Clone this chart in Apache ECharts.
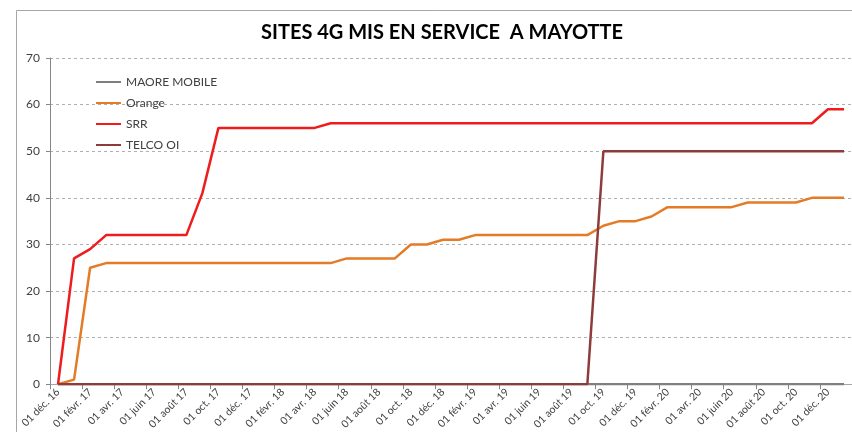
<!DOCTYPE html>
<html>
<head>
<meta charset="utf-8">
<script src="https://cdn.jsdelivr.net/npm/echarts@6/dist/echarts.min.js"></script>
<style>
	html, body { margin: 0; padding: 0; background: #fff; }
	#chart { width: 852px; height: 432px; }
</style>
</head>
<body>
<div id="chart"></div>
<script>
// mois (un point par mois, une etiquette sur deux)
var months = [
	'01 déc. 16',
	'01 janv. 17', '01 févr. 17', '01 mars 17', '01 avr. 17', '01 mai 17', '01 juin 17',
	'01 juil. 17', '01 août 17', '01 sept. 17', '01 oct. 17', '01 nov. 17', '01 déc. 17',
	'01 janv. 18', '01 févr. 18', '01 mars 18', '01 avr. 18', '01 mai 18', '01 juin 18',
	'01 juil. 18', '01 août 18', '01 sept. 18', '01 oct. 18', '01 nov. 18', '01 déc. 18',
	'01 janv. 19', '01 févr. 19', '01 mars 19', '01 avr. 19', '01 mai 19', '01 juin 19',
	'01 juil. 19', '01 août 19', '01 sept. 19', '01 oct. 19', '01 nov. 19', '01 déc. 19',
	'01 janv. 20', '01 févr. 20', '01 mars 20', '01 avr. 20', '01 mai 20', '01 juin 20',
	'01 juil. 20', '01 août 20', '01 sept. 20', '01 oct. 20', '01 nov. 20', '01 déc. 20',
	'01 janv. 21'
];

var maoreMobile = [
	0, 0, 0, 0, 0, 0, 0, 0, 0, 0,
	0, 0, 0, 0, 0, 0, 0, 0, 0, 0,
	0, 0, 0, 0, 0, 0, 0, 0, 0, 0,
	0, 0, 0, 0, 0, 0, 0, 0, 0, 0,
	0, 0, 0, 0, 0, 0, 0, 0, 0, 0
];
var orange = [
	0, 1, 25, 26, 26, 26, 26, 26, 26, 26,
	26, 26, 26, 26, 26, 26, 26, 26, 27, 27,
	27, 27, 30, 30, 31, 31, 32, 32, 32, 32,
	32, 32, 32, 32, 34, 35, 35, 36, 38, 38,
	38, 38, 38, 39, 39, 39, 39, 40, 40, 40
];
var srr = [
	0, 27, 29, 32, 32, 32, 32, 32, 32, 41,
	55, 55, 55, 55, 55, 55, 55, 56, 56, 56,
	56, 56, 56, 56, 56, 56, 56, 56, 56, 56,
	56, 56, 56, 56, 56, 56, 56, 56, 56, 56,
	56, 56, 56, 56, 56, 56, 56, 56, 59, 59
];
var telcoOi = [
	0, 0, 0, 0, 0, 0, 0, 0, 0, 0,
	0, 0, 0, 0, 0, 0, 0, 0, 0, 0,
	0, 0, 0, 0, 0, 0, 0, 0, 0, 0,
	0, 0, 0, 0, 50, 50, 50, 50, 50, 50,
	50, 50, 50, 50, 50, 50, 50, 50, 50, 50
];

var font = 'Lato, "Liberation Sans", sans-serif';

function ligne(nom, data, couleur) {
	return {
		name: nom,
		type: 'line',
		data: data,
		symbol: 'none',
		lineStyle: { color: couleur, width: 2.5 },
		itemStyle: { color: couleur },
		animation: false
	};
}

var myChart = echarts.init(document.getElementById('chart'), null, { renderer: 'canvas' });
myChart.setOption({
	animation: false,
	textStyle: { fontFamily: font },
	title: {
		text: 'SITES 4G MIS EN SERVICE  A MAYOTTE',
		left: 256,
		top: 18,
		textStyle: { fontFamily: font, fontSize: 20, fontWeight: 'bold', color: '#000' }
	},
	graphic: [{
		type: 'rect',
		left: 14, top: 8,
		shape: { width: 900, height: 500 },
		style: { fill: 'none', stroke: '#a6a6a6', lineWidth: 1 },
		silent: true
	}],
	legend: {
		orient: 'vertical',
		left: 90,
		top: 71,
		itemWidth: 25,
		itemHeight: 12,
		itemGap: 9,
		itemStyle: { opacity: 0 },
		textStyle: { fontFamily: font, fontSize: 12, color: '#404040' },
		data: ['MAORE MOBILE', 'Orange', 'SRR', 'TELCO OI']
	},
	grid: { left: 50, right: 0, top: 58, bottom: 47 },
	xAxis: {
		type: 'category',
		data: months,
		boundaryGap: true,
		axisLine: { lineStyle: { color: '#a6a6a6', width: 1 } },
		axisTick: { show: true, interval: 1, length: 5, lineStyle: { color: '#868686' } },
		axisLabel: { interval: 1, rotate: 45, fontSize: 10.5, color: '#404040', margin: 6, fontFamily: font }
	},
	yAxis: {
		type: 'value',
		min: 0,
		max: 70,
		interval: 10,
		axisLine: { show: true, lineStyle: { color: '#868686' } },
		axisTick: { show: true, length: 4, lineStyle: { color: '#868686' } },
		axisLabel: { fontSize: 12, color: '#404040', margin: 10, fontFamily: font },
		splitLine: { lineStyle: { color: '#b0b0b0', type: [3, 3] } }
	},
	series: [
		ligne('MAORE MOBILE', maoreMobile, '#7f7f7f'),
		ligne('Orange', orange, '#e47b26'),
		ligne('SRR', srr, '#ee1c1c'),
		ligne('TELCO OI', telcoOi, '#8e3b3b')
	]
});
</script>
</body>
</html>
